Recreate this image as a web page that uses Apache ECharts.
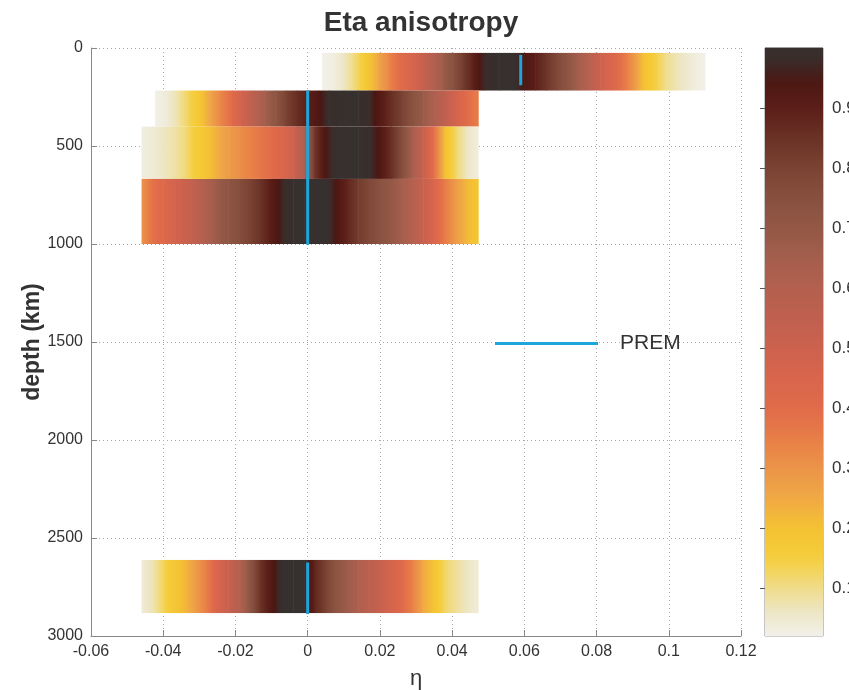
<!DOCTYPE html>
<html>
<head>
<meta charset="utf-8">
<script src="https://cdn.jsdelivr.net/npm/echarts@6/dist/echarts.min.js"></script>
<style>
  html, body { margin: 0; padding: 0; background: #fff; }
  #chart { width: 849px; height: 690px; }
</style>
</head>
<body>
<div id="chart"></div>
<script>
// Depth ranges (km) of each layer
const layerTop = [25, 217, 401, 668, 2612];
const layerBottom = [217, 401, 668, 1000, 2883];

// Posterior probability profiles along eta for each layer
const eta1 = [0.004, 0.007, 0.010, 0.013, 0.016, 0.019, 0.022, 0.025, 0.028, 0.031, 0.034, 0.037, 0.040, 0.043, 0.046, 0.049, 0.053, 0.057, 0.060, 0.063, 0.066, 0.069, 0.072, 0.075, 0.078, 0.081, 0.084, 0.087, 0.090, 0.093, 0.096, 0.099, 0.102, 0.106, 0.110];
const prob1 = [0.02, 0.03, 0.06, 0.11, 0.17, 0.24, 0.32, 0.39, 0.44, 0.50, 0.58, 0.66, 0.74, 0.82, 0.90, 0.98, 1.00, 1.00, 0.94, 0.90, 0.84, 0.78, 0.72, 0.65, 0.58, 0.50, 0.44, 0.38, 0.30, 0.20, 0.15, 0.10, 0.07, 0.04, 0.02];

const eta2 = [-0.0423, -0.039, -0.036, -0.033, -0.030, -0.027, -0.024, -0.021, -0.018, -0.015, -0.012, -0.009, -0.006, -0.003, 0.000, 0.003, 0.006, 0.010, 0.014, 0.017, 0.020, 0.023, 0.026, 0.029, 0.032, 0.035, 0.038, 0.041, 0.044, 0.0472];
const prob2 = [0.02, 0.04, 0.08, 0.13, 0.18, 0.26, 0.33, 0.40, 0.49, 0.57, 0.65, 0.72, 0.80, 0.86, 0.90, 0.94, 0.99, 1.00, 1.00, 0.98, 0.92, 0.86, 0.80, 0.74, 0.68, 0.62, 0.55, 0.47, 0.40, 0.35];

const eta3 = [-0.046, -0.043, -0.040, -0.037, -0.034, -0.031, -0.028, -0.025, -0.022, -0.019, -0.016, -0.013, -0.010, -0.007, -0.004, -0.001, 0.002, 0.005, 0.008, 0.011, 0.014, 0.017, 0.020, 0.023, 0.026, 0.029, 0.032, 0.035, 0.038, 0.041, 0.044, 0.0472];
const prob3 = [0.03, 0.04, 0.06, 0.08, 0.11, 0.16, 0.19, 0.24, 0.28, 0.31, 0.34, 0.37, 0.40, 0.44, 0.50, 0.62, 0.84, 0.95, 1.00, 1.00, 1.00, 0.99, 0.93, 0.86, 0.76, 0.64, 0.52, 0.38, 0.20, 0.12, 0.06, 0.03];

const eta4 = [-0.046, -0.043, -0.040, -0.037, -0.034, -0.031, -0.028, -0.025, -0.022, -0.019, -0.016, -0.013, -0.010, -0.007, -0.004, -0.001, 0.002, 0.005, 0.008, 0.011, 0.014, 0.017, 0.020, 0.023, 0.026, 0.029, 0.032, 0.035, 0.038, 0.041, 0.044, 0.0472];
const prob4 = [0.30, 0.38, 0.42, 0.47, 0.51, 0.56, 0.62, 0.68, 0.72, 0.76, 0.80, 0.85, 0.91, 0.97, 1.00, 1.00, 1.00, 1.00, 0.94, 0.88, 0.82, 0.78, 0.74, 0.70, 0.65, 0.59, 0.52, 0.44, 0.35, 0.28, 0.22, 0.18];

const eta5 = [-0.046, -0.043, -0.040, -0.037, -0.034, -0.031, -0.028, -0.025, -0.022, -0.019, -0.016, -0.013, -0.010, -0.007, -0.004, -0.001, 0.002, 0.005, 0.008, 0.011, 0.014, 0.017, 0.020, 0.023, 0.026, 0.029, 0.032, 0.035, 0.038, 0.041, 0.044, 0.0472];
const prob5 = [0.04, 0.07, 0.13, 0.18, 0.22, 0.28, 0.35, 0.45, 0.52, 0.60, 0.72, 0.85, 0.93, 1.00, 1.00, 1.00, 0.88, 0.80, 0.72, 0.67, 0.62, 0.57, 0.52, 0.46, 0.41, 0.34, 0.25, 0.19, 0.12, 0.09, 0.06, 0.04];

// PREM reference eta values, as vertical segments
const premEta = [0.059, 0, 0];
const premTop = [35, 217, 2625];
const premBottom = [190, 1005, 2888];

// Axis ticks
const etaMin = -0.06, etaMax = 0.12, etaStep = 0.02;
const depthMin = 0, depthMax = 3000, depthStep = 500;
const colorbarTicks = [0.1, 0.2, 0.3, 0.4, 0.5, 0.6, 0.7, 0.8, 0.9];

// Colormap (value -> colour)
const cmapPos = [0.00, 0.02, 0.06, 0.10, 0.15, 0.20, 0.25, 0.30, 0.35, 0.40, 0.45, 0.50, 0.55, 0.60, 0.65, 0.70, 0.75, 0.80, 0.85, 0.90, 0.95, 0.97, 1.00];
const cmapCol = ['#f4f2ee', '#f2f0ea', '#ede6c4', '#f0dc8a', '#f5cd3a', '#f4c233', '#f0a845', '#eb9448', '#e87d47', '#e06b4a', '#d8654c', '#cc624e', '#c0604f', '#b3604f', '#a55e4d', '#935845', '#87503f', '#7a4232', '#6a3226', '#5b1e18', '#4a1612', '#3d2a27', '#36302e'];

function hexToRgb(h) {
  return [parseInt(h.slice(1, 3), 16), parseInt(h.slice(3, 5), 16), parseInt(h.slice(5, 7), 16)];
}
const cmapRgb = cmapCol.map(hexToRgb);
function cmap(v) {
  v = Math.max(0, Math.min(1, v));
  let i = 0;
  while (i < cmapPos.length - 2 && v > cmapPos[i + 1]) i++;
  const t = (v - cmapPos[i]) / (cmapPos[i + 1] - cmapPos[i]);
  const a = cmapRgb[i], b = cmapRgb[i + 1];
  const c = a.map((x, k) => Math.round(x + (b[k] - x) * t));
  return 'rgb(' + c.join(',') + ')';
}
function shade(p0, p1) {
  const stops = [];
  for (let k = 0; k <= 4; k++) {
    const t = k / 4;
    stops.push({ offset: t, color: cmap(p0 + (p1 - p0) * t) });
  }
  return { type: 'linear', x: 0, y: 0, x2: 1, y2: 0, colorStops: stops };
}

// Cells: [eta0, eta1, depthTop, depthBottom, p0, p1]
const profiles = [[eta1, prob1], [eta2, prob2], [eta3, prob3], [eta4, prob4], [eta5, prob5]];
const cells = [];
profiles.forEach(([eta, prob], b) => {
  for (let i = 0; i < eta.length - 1; i++) {
    cells.push([eta[i], eta[i + 1], layerTop[b], layerBottom[b], prob[i], prob[i + 1]]);
  }
});

const premSegments = premEta.map((e, i) => [e, premTop[i], premBottom[i]]);

// Colour bar levels
const cbMin = 0.02, cbMax = 1;
const cbLevels = [];
for (let v = cbMin; v < cbMax - 1e-9; v += 0.02) cbLevels.push([v, Math.min(v + 0.02, cbMax)]);

const font = 'Liberation Sans';
const premColor = '#1ea6dc';

const chart = echarts.init(document.getElementById('chart'), null, { renderer: 'canvas' });
chart.setOption({
  animation: false,
  backgroundColor: '#fff',
  textStyle: { fontFamily: font },
  title: {
    text: 'Eta anisotropy',
    left: 416,
    textAlign: 'center',
    top: 4,
    textStyle: { fontFamily: font, fontSize: 28, fontWeight: 'bold', color: '#333' }
  },
  legend: {
    data: [{ name: 'PREM', icon: 'rect' }],
    left: 490,
    top: 328,
    itemWidth: 103,
    itemHeight: 3,
    selectedMode: false,
    textStyle: { fontFamily: font, fontSize: 21, color: '#333', padding: [0, 0, 0, 17] }
  },
  grid: [
    { left: 91, top: 48, width: 650, height: 588, show: false, outerBoundsMode: 'none' },
    { left: 765, top: 48, width: 58, height: 588, show: true, borderColor: '#8a8a8a', borderWidth: 1, backgroundColor: 'transparent', outerBoundsMode: 'none' }
  ],
  xAxis: [
    {
      type: 'value', gridIndex: 0, min: etaMin, max: etaMax, interval: etaStep,
      name: 'η', nameLocation: 'middle', nameGap: 32, nameMoveOverlap: false,
      nameTextStyle: { fontFamily: font, fontSize: 22, color: '#333' },
      axisLine: { show: true, onZero: false, lineStyle: { color: '#888', width: 1 } },
      axisTick: { show: true, inside: true, length: 6, lineStyle: { color: '#888' } },
      axisLabel: { fontFamily: font, fontSize: 16, color: '#333', margin: 8 },
      splitLine: { show: true, lineStyle: { type: [1, 3], color: '#a8a8a8', width: 1 } }
    },
    { type: 'value', gridIndex: 1, min: 0, max: 1, show: false }
  ],
  yAxis: [
    {
      type: 'value', gridIndex: 0, inverse: true, min: depthMin, max: depthMax, interval: depthStep,
      name: 'depth (km)', nameLocation: 'middle', nameGap: 47, nameRotate: 90, nameMoveOverlap: false,
      nameTextStyle: { fontFamily: font, fontSize: 23, fontWeight: 'bold', color: '#333' },
      axisLine: { show: true, onZero: false, lineStyle: { color: '#888', width: 1 } },
      axisTick: { show: true, inside: true, length: 6, lineStyle: { color: '#888' } },
      axisLabel: { fontFamily: font, fontSize: 16, color: '#333', margin: 8, formatter: v => String(v) },
      splitLine: { show: true, lineStyle: { type: [1, 3], color: '#a8a8a8', width: 1 } }
    },
    {
      type: 'value', gridIndex: 1, position: 'right', min: cbMin, max: cbMax,
      axisLine: { show: false },
      axisTick: { show: true, inside: true, length: 5, customValues: colorbarTicks, lineStyle: { color: '#555' } },
      axisLabel: { show: true, customValues: colorbarTicks, fontFamily: font, fontSize: 17, color: '#333', margin: 9 },
      splitLine: { show: false }
    },
    {
      type: 'value', gridIndex: 1, position: 'left', min: cbMin, max: cbMax,
      axisLine: { show: false },
      axisTick: { show: true, inside: true, length: 5, customValues: colorbarTicks, lineStyle: { color: '#555' } },
      axisLabel: { show: false },
      splitLine: { show: false }
    }
  ],
  series: [
    {
      name: 'posterior',
      type: 'custom',
      xAxisIndex: 0, yAxisIndex: 0,
      silent: true,
      encode: { x: [0, 1], y: [2, 3] },
      data: cells,
      renderItem: function (params, api) {
        const a = api.coord([api.value(0), api.value(2)]);
        const b = api.coord([api.value(1), api.value(3)]);
        return {
          type: 'rect',
          shape: { x: a[0], y: a[1], width: b[0] - a[0] + 0.6, height: b[1] - a[1] },
          style: { fill: shade(api.value(4), api.value(5)) }
        };
      },
      z: 2
    },
    {
      name: 'PREM',
      type: 'custom',
      xAxisIndex: 0, yAxisIndex: 0,
      silent: true,
      itemStyle: { color: premColor },
      encode: { x: 0, y: [1, 2] },
      data: premSegments,
      renderItem: function (params, api) {
        const a = api.coord([api.value(0), api.value(1)]);
        const b = api.coord([api.value(0), api.value(2)]);
        return {
          type: 'line',
          shape: { x1: a[0], y1: a[1], x2: b[0], y2: b[1] },
          style: { stroke: premColor, lineWidth: 3 }
        };
      },
      z: 3
    },
    {
      name: 'colorbar',
      type: 'custom',
      xAxisIndex: 1, yAxisIndex: 1,
      silent: true,
      data: cbLevels,
      renderItem: function (params, api) {
        const lo = api.value(0), hi = api.value(1);
        const a = api.coord([0, hi]);
        const b = api.coord([1, lo]);
        return {
          type: 'rect',
          shape: { x: a[0], y: a[1] - 0.3, width: b[0] - a[0], height: b[1] - a[1] + 0.6 },
          style: {
            fill: { type: 'linear', x: 0, y: 1, x2: 0, y2: 0, colorStops: [
              { offset: 0, color: cmap(lo) }, { offset: 1, color: cmap(hi) }
            ] }
          }
        };
      },
      z: 1
    }
  ]
});
</script>
</body>
</html>
